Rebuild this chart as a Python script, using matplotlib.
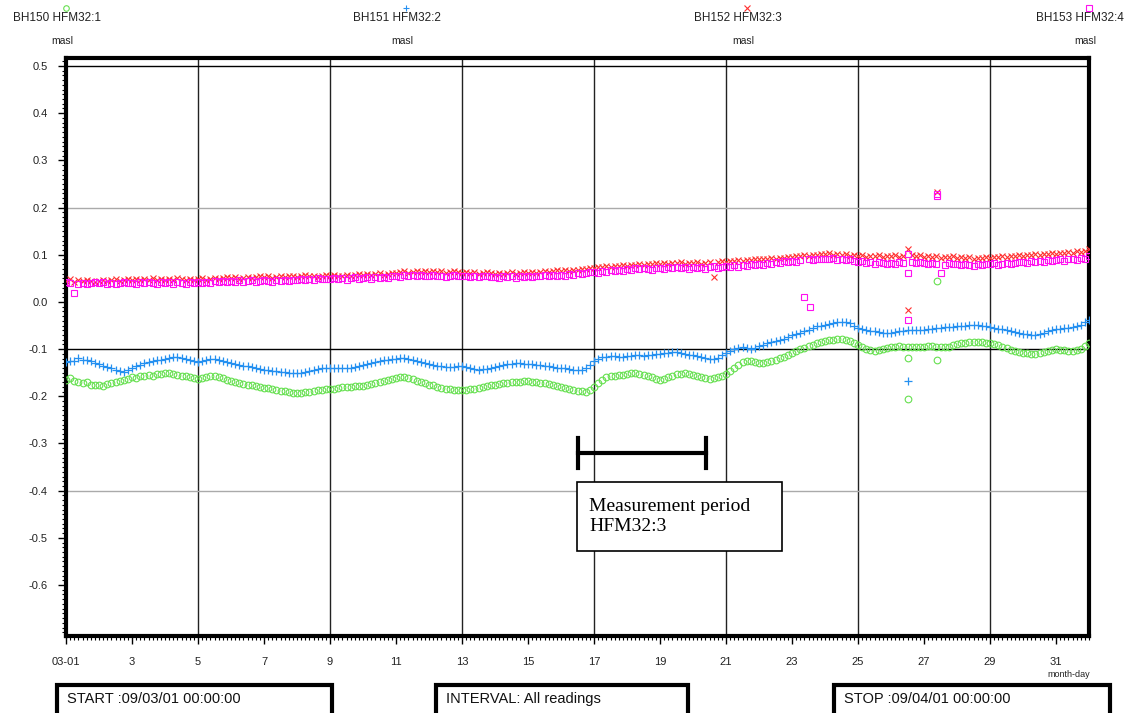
import numpy as np
import matplotlib.pyplot as plt
from matplotlib.patches import Rectangle

plt.rcParams['font.family'] = ['Liberation Sans', 'DejaVu Sans']
plt.rcParams['axes.unicode_minus'] = False

# leituras a cada 3 h, de 03-01 00:00 ate 04-01 00:00 (dia do mes)
tempo = np.arange(1, 32.001, 0.125)

# BH150 HFM32:1 (masl), uma linha por dia
hfm32_1 = [
    -0.165, -0.162, -0.168, -0.170, -0.172, -0.169, -0.175, -0.176,
    -0.176, -0.178, -0.174, -0.172, -0.170, -0.167, -0.166, -0.163,
    -0.160, -0.161, -0.158, -0.156, -0.155, -0.157, -0.153, -0.152,
    -0.151, -0.150, -0.152, -0.154, -0.156, -0.158, -0.160, -0.161,
    -0.163, -0.161, -0.160, -0.157, -0.158, -0.160, -0.162, -0.165,
    -0.168, -0.170, -0.172, -0.174, -0.176, -0.175, -0.179, -0.180,
    -0.182, -0.183, -0.185, -0.186, -0.188, -0.189, -0.191, -0.192,
    -0.193, -0.194, -0.190, -0.191, -0.188, -0.187, -0.186, -0.184,
    -0.184, -0.185, -0.182, -0.181, -0.180, -0.181, -0.179, -0.178,
    -0.178, -0.176, -0.174, -0.172, -0.170, -0.168, -0.166, -0.164,
    -0.162, -0.160, -0.160, -0.162, -0.164, -0.167, -0.170, -0.172,
    -0.175, -0.177, -0.180, -0.182, -0.184, -0.185, -0.186, -0.187,
    -0.186, -0.187, -0.185, -0.184, -0.182, -0.180, -0.178, -0.176,
    -0.175, -0.173, -0.172, -0.171, -0.170, -0.169, -0.169, -0.168,
    -0.168, -0.169, -0.170, -0.171, -0.172, -0.174, -0.176, -0.178,
    -0.180, -0.182, -0.184, -0.186, -0.188, -0.189, -0.190, -0.186,
    -0.180, -0.172, -0.165, -0.160, -0.157, -0.156, -0.155, -0.154,
    -0.152, -0.151, -0.151, -0.153, -0.155, -0.158, -0.160, -0.163,
    -0.166, -0.163, -0.160, -0.156, -0.153, -0.152, -0.151, -0.153,
    -0.155, -0.158, -0.160, -0.162, -0.163, -0.162, -0.160, -0.156,
    -0.152, -0.146, -0.140, -0.133, -0.128, -0.126, -0.126, -0.128,
    -0.130, -0.129, -0.128, -0.125, -0.122, -0.119, -0.116, -0.112,
    -0.108, -0.104, -0.100, -0.097, -0.094, -0.091, -0.088, -0.085,
    -0.082, -0.081, -0.080, -0.079, -0.079, -0.080, -0.082, -0.087,
    -0.092, -0.096, -0.100, -0.102, -0.104, -0.102, -0.100, -0.098,
    -0.096, -0.095, -0.094, -0.095, -0.095, -0.096, -0.096, -0.095,
    -0.095, -0.094, -0.094, -0.095, -0.096, -0.096, -0.095, -0.092,
    -0.090, -0.088, -0.086, -0.085, -0.084, -0.084, -0.085, -0.086,
    -0.087, -0.089, -0.092, -0.095, -0.098, -0.101, -0.104, -0.106,
    -0.108, -0.109, -0.110, -0.110, -0.108, -0.106, -0.104, -0.102,
    -0.100, -0.101, -0.102, -0.103, -0.104, -0.102, -0.100, -0.094,
    -0.086]

# BH151 HFM32:2
hfm32_2 = [
    -0.128, -0.126, -0.125, -0.118, -0.122, -0.124, -0.126, -0.129,
    -0.132, -0.135, -0.138, -0.141, -0.145, -0.147, -0.148, -0.145,
    -0.140, -0.136, -0.133, -0.130, -0.128, -0.126, -0.124, -0.122,
    -0.120, -0.118, -0.117, -0.116, -0.118, -0.120, -0.122, -0.125,
    -0.128, -0.126, -0.124, -0.121, -0.120, -0.122, -0.125, -0.128,
    -0.130, -0.131, -0.133, -0.135, -0.136, -0.138, -0.140, -0.142,
    -0.144, -0.145, -0.146, -0.147, -0.148, -0.149, -0.150, -0.151,
    -0.151, -0.150, -0.148, -0.146, -0.144, -0.142, -0.141, -0.140,
    -0.140, -0.141, -0.141, -0.140, -0.140, -0.139, -0.138, -0.136,
    -0.134, -0.132, -0.130, -0.128, -0.126, -0.124, -0.122, -0.121,
    -0.120, -0.119, -0.119, -0.120, -0.122, -0.125, -0.128, -0.130,
    -0.132, -0.133, -0.135, -0.136, -0.137, -0.137, -0.137, -0.136,
    -0.136, -0.138, -0.140, -0.142, -0.144, -0.143, -0.142, -0.140,
    -0.138, -0.136, -0.134, -0.132, -0.131, -0.130, -0.130, -0.131,
    -0.132, -0.132, -0.133, -0.134, -0.135, -0.136, -0.138, -0.139,
    -0.140, -0.141, -0.143, -0.144, -0.145, -0.144, -0.140, -0.134,
    -0.126, -0.121, -0.117, -0.116, -0.115, -0.115, -0.116, -0.116,
    -0.115, -0.114, -0.113, -0.113, -0.114, -0.113, -0.112, -0.111,
    -0.110, -0.109, -0.108, -0.107, -0.107, -0.108, -0.110, -0.112,
    -0.113, -0.114, -0.116, -0.118, -0.120, -0.121, -0.118, -0.113,
    -0.108, -0.104, -0.100, -0.097, -0.095, -0.097, -0.100, -0.097,
    -0.094, -0.091, -0.088, -0.085, -0.082, -0.080, -0.078, -0.074,
    -0.070, -0.068, -0.065, -0.062, -0.060, -0.056, -0.052, -0.050,
    -0.048, -0.046, -0.044, -0.043, -0.042, -0.043, -0.045, -0.050,
    -0.056, -0.058, -0.060, -0.061, -0.062, -0.064, -0.065, -0.066,
    -0.066, -0.064, -0.062, -0.061, -0.060, -0.060, -0.059, -0.059,
    -0.059, -0.058, -0.057, -0.056, -0.055, -0.054, -0.053, -0.053,
    -0.052, -0.051, -0.050, -0.049, -0.049, -0.049, -0.050, -0.052,
    -0.054, -0.055, -0.057, -0.058, -0.060, -0.062, -0.064, -0.066,
    -0.067, -0.069, -0.070, -0.070, -0.068, -0.066, -0.062, -0.060,
    -0.058, -0.057, -0.056, -0.055, -0.054, -0.052, -0.048, -0.043,
    -0.038]

# BH152 HFM32:3
hfm32_3 = [
    0.045, 0.048, 0.043, 0.046, 0.044, 0.047, 0.045, 0.043,
    0.045, 0.047, 0.044, 0.046, 0.048, 0.045, 0.047, 0.049,
    0.046, 0.048, 0.046, 0.049, 0.047, 0.050, 0.046, 0.048,
    0.046, 0.049, 0.047, 0.050, 0.048, 0.046, 0.049, 0.047,
    0.048, 0.050, 0.047, 0.049, 0.051, 0.048, 0.050, 0.052,
    0.050, 0.052, 0.049, 0.051, 0.053, 0.050, 0.052, 0.054,
    0.052, 0.054, 0.051, 0.053, 0.055, 0.052, 0.054, 0.056,
    0.053, 0.055, 0.057, 0.054, 0.056, 0.053, 0.055, 0.057,
    0.055, 0.057, 0.054, 0.056, 0.058, 0.055, 0.057, 0.059,
    0.058, 0.060, 0.057, 0.059, 0.061, 0.058, 0.060, 0.062,
    0.061, 0.063, 0.065, 0.062, 0.064, 0.066, 0.063, 0.065,
    0.064, 0.066, 0.063, 0.065, 0.062, 0.064, 0.066, 0.063,
    0.062, 0.064, 0.061, 0.063, 0.060, 0.062, 0.064, 0.061,
    0.060, 0.062, 0.059, 0.061, 0.063, 0.060, 0.062, 0.064,
    0.061, 0.063, 0.062, 0.064, 0.066, 0.063, 0.065, 0.067,
    0.065, 0.067, 0.066, 0.068, 0.067, 0.069, 0.070, 0.071,
    0.072, 0.074, 0.073, 0.076, 0.075, 0.077, 0.076, 0.078,
    0.077, 0.079, 0.078, 0.080, 0.079, 0.081, 0.080, 0.082,
    0.080, 0.082, 0.081, 0.083, 0.082, 0.084, 0.081, 0.083,
    0.082, 0.084, 0.081, 0.083, 0.085, 0.052, 0.084, 0.086,
    0.085, 0.087, 0.086, 0.088, 0.087, 0.089, 0.088, 0.090,
    0.090, 0.092, 0.091, 0.093, 0.092, 0.094, 0.094, 0.096,
    0.096, 0.098, 0.097, 0.099, 0.098, 0.100, 0.100, 0.102,
    0.101, 0.103, 0.100, 0.102, 0.099, 0.101, 0.098, 0.100,
    0.097, 0.099, 0.096, 0.098, 0.097, 0.099, 0.096, 0.098,
    0.097, 0.099, 0.096, 0.098, 0.112, 0.100, 0.097, 0.099,
    0.096, 0.098, 0.095, 0.097, 0.094, 0.096, 0.095, 0.097,
    0.094, 0.096, 0.093, 0.095, 0.092, 0.094, 0.093, 0.095,
    0.094, 0.096, 0.095, 0.097, 0.096, 0.098, 0.097, 0.099,
    0.098, 0.100, 0.099, 0.101, 0.100, 0.102, 0.101, 0.103,
    0.102, 0.104, 0.103, 0.105, 0.104, 0.107, 0.106, 0.109,
    0.112]

# BH153 HFM32:4
hfm32_4 = [
    0.043, 0.040, 0.018, 0.039, 0.041, 0.038, 0.040, 0.042,
    0.040, 0.042, 0.039, 0.041, 0.038, 0.040, 0.042, 0.041,
    0.041, 0.039, 0.042, 0.040, 0.043, 0.041, 0.039, 0.042,
    0.040, 0.042, 0.039, 0.043, 0.041, 0.039, 0.042, 0.040,
    0.042, 0.040, 0.043, 0.041, 0.044, 0.042, 0.045, 0.043,
    0.045, 0.043, 0.046, 0.042, 0.044, 0.046, 0.043, 0.045,
    0.046, 0.044, 0.043, 0.046, 0.044, 0.047, 0.045, 0.047,
    0.046, 0.048, 0.046, 0.049, 0.047, 0.050, 0.048, 0.049,
    0.049, 0.051, 0.048, 0.050, 0.047, 0.050, 0.052, 0.049,
    0.051, 0.053, 0.049, 0.052, 0.050, 0.053, 0.051, 0.054,
    0.055, 0.053, 0.057, 0.055, 0.058, 0.054, 0.057, 0.055,
    0.056, 0.058, 0.054, 0.056, 0.053, 0.055, 0.057, 0.054,
    0.054, 0.056, 0.052, 0.055, 0.053, 0.056, 0.054, 0.052,
    0.053, 0.051, 0.055, 0.052, 0.054, 0.051, 0.055, 0.053,
    0.054, 0.052, 0.056, 0.054, 0.057, 0.055, 0.058, 0.056,
    0.058, 0.056, 0.060, 0.058, 0.061, 0.059, 0.062, 0.064,
    0.064, 0.062, 0.066, 0.064, 0.067, 0.065, 0.068, 0.066,
    0.069, 0.067, 0.071, 0.069, 0.072, 0.070, 0.068, 0.071,
    0.071, 0.069, 0.073, 0.071, 0.074, 0.071, 0.073, 0.070,
    0.073, 0.071, 0.074, 0.070, 0.073, 0.076, 0.072, 0.075,
    0.076, 0.074, 0.078, 0.075, 0.079, 0.076, 0.080, 0.078,
    0.081, 0.079, 0.083, 0.080, 0.084, 0.082, 0.086, 0.084,
    0.087, 0.085, 0.089, 0.011, 0.090, 0.088, 0.092, 0.090,
    0.092, 0.090, 0.093, 0.089, 0.091, 0.088, 0.090, 0.087,
    0.084, 0.086, 0.082, 0.085, 0.081, 0.084, 0.082, 0.080,
    0.083, 0.081, 0.084, 0.082, 0.062, 0.085, 0.082, 0.084,
    0.082, 0.080, 0.083, 0.081, 0.062, 0.079, 0.082, 0.080,
    0.080, 0.078, 0.081, 0.079, 0.077, 0.080, 0.078, 0.081,
    0.080, 0.082, 0.079, 0.081, 0.083, 0.080, 0.082, 0.084,
    0.084, 0.082, 0.086, 0.084, 0.087, 0.085, 0.088, 0.086,
    0.088, 0.090, 0.087, 0.090, 0.092, 0.089, 0.093, 0.091,
    0.097]

# leituras fora da curva
fora1_t = [26.5, 26.5, 27.4, 27.4]
fora1_v = [-0.205, -0.118, 0.045, -0.122]
fora2_t = [26.5]
fora2_v = [-0.168]
fora3_t = [26.5, 27.4]
fora3_v = [-0.018, 0.232]
fora4_t = [23.55, 26.5, 26.5, 27.4, 27.4]
fora4_v = [-0.011, 0.102, -0.038, 0.229, 0.225]

nomes = ['BH150 HFM32:1', 'BH151 HFM32:2', 'BH152 HFM32:3', 'BH153 HFM32:4']
xticks = [1, 3, 5, 7, 9, 11, 13, 15, 17, 19, 21, 23, 25, 27, 29, 31]
xlabels = ['03-01', '3', '5', '7', '9', '11', '13', '15', '17', '19', '21',
           '23', '25', '27', '29', '31']
yticks = [-0.6, -0.5, -0.4, -0.3, -0.2, -0.1, 0.0, 0.1, 0.2, 0.3, 0.4, 0.5]
ylabels = ['-0.6', '-0.5', '-0.4', '-0.3', '-0.2', '-0.1', '0.0', '0.1', '0.2',
           '0.3', '0.4', '0.5']

verde = '#66e050'
azul = '#2590f0'
vermelho = '#ff3030'
magenta = '#ff10f0'

fig = plt.figure(figsize=(11.3, 7.13), dpi=100)
ax = fig.add_axes([66/1130, 1-636/713, (1089-66)/1130, (636-58)/713])

# grade
for d in [5, 9, 13, 17, 21, 25, 29]:
    ax.axvline(d, color='#222222', lw=1.0, zorder=1)
ax.axhline(0.5, color='black', lw=1.0, zorder=1)
ax.axhline(-0.1, color='black', lw=1.0, zorder=1)
ax.axhline(0.2, color='#aaaaaa', lw=1.0, zorder=1)
ax.axhline(-0.4, color='#aaaaaa', lw=1.0, zorder=1)

# series
ax.plot(tempo, hfm32_1, 'o', mfc='none', mec=verde, ms=4.8, mew=0.8, zorder=3)
ax.plot(fora1_t, fora1_v, 'o', mfc='none', mec=verde, ms=4.8, mew=0.8, zorder=3)
ax.plot(tempo, hfm32_2, '+', color=azul, ms=6, mew=0.9, zorder=3)
ax.plot(fora2_t, fora2_v, '+', color=azul, ms=6, mew=0.9, zorder=3)
ax.plot(tempo, hfm32_3, 'x', color=vermelho, ms=4.2, mew=0.8, zorder=3)
ax.plot(fora3_t, fora3_v, 'x', color=vermelho, ms=4.2, mew=0.8, zorder=3)
ax.plot(tempo, hfm32_4, 's', mfc='none', mec=magenta, ms=4.8, mew=0.8, zorder=4)
ax.plot(fora4_t, fora4_v, 's', mfc='none', mec=magenta, ms=4.8, mew=0.8, zorder=4)

ax.set_xlim(1, 32)
ax.set_ylim(-0.708, 0.517)
ax.set_xticks(xticks)
ax.set_xticklabels(xlabels)
ax.set_xticks(np.arange(1, 32.001, 0.125), minor=True)
ax.set_yticks(yticks)
ax.set_yticklabels(ylabels)
ax.set_yticks(np.arange(-0.70, 0.515, 0.01), minor=True)
ax.tick_params(axis='both', which='major', direction='out', length=6, width=1,
               labelsize=8, labelcolor='#222222')
ax.tick_params(axis='both', which='minor', direction='out', length=3, width=0.8)
ax.tick_params(axis='x', which='major', pad=9)
ax.tick_params(axis='y', which='major', pad=7)
for s in ax.spines.values():
    s.set_linewidth(3)

ax.text(31.4, -0.79, 'month-day', fontsize=6.5, ha='center', va='center',
        clip_on=False, color='#222222')

# periodo de medicao
ax.plot([16.5, 20.4], [-0.32, -0.32], color='black', lw=3, zorder=5)
ax.plot([16.5, 16.5], [-0.288, -0.352], color='black', lw=3, zorder=5)
ax.plot([20.4, 20.4], [-0.288, -0.352], color='black', lw=3, zorder=5)
ax.add_patch(Rectangle((16.47, -0.527), 6.23, 0.146, facecolor='white',
                       edgecolor='black', lw=1.2, zorder=6))
ax.text(16.85, -0.454, 'Measurement period\nHFM32:3', family='Liberation Serif',
        fontsize=14, va='center', ha='left', linespacing=1.25, zorder=7)

# legenda no topo
cores = [verde, azul, vermelho, magenta]
marcas = ['o', '+', 'x', 's']
xm = [66, 406, 747, 1089]
for i in range(4):
    x = xm[i] / 1130
    if marcas[i] in ['o', 's']:
        ax.plot([x], [1 - 8/713], marcas[i], mfc='none', mec=cores[i], ms=4,
                mew=0.8, transform=fig.transFigure, clip_on=False)
    else:
        ax.plot([x], [1 - 8/713], marcas[i], color=cores[i], ms=4.5,
                mew=0.8, transform=fig.transFigure, clip_on=False)
    fig.text(x - 9/1130, 1 - 18/713, nomes[i], fontsize=8.5, ha='center',
             va='center', color='#222222')
    fig.text(x - 4/1130, 1 - 41/713, 'masl', fontsize=7.5, ha='center',
             va='center', color='#222222')

# caixas de baixo
caixas = [(57, 332, 'START :09/03/01 00:00:00'),
          (436, 688, 'INTERVAL: All readings'),
          (834, 1110, 'STOP :09/04/01 00:00:00')]
for x0, x1, txt in caixas:
    fig.add_artist(Rectangle((x0/1130, -0.02), (x1-x0)/1130, 0.02 + 28/713,
                             transform=fig.transFigure, fill=False,
                             edgecolor='black', lw=3))
    fig.text((x0+10)/1130, 1 - 699/713, txt, fontsize=10.5, ha='left',
             va='center', color='#111111')

plt.savefig('out.png', dpi=100)
